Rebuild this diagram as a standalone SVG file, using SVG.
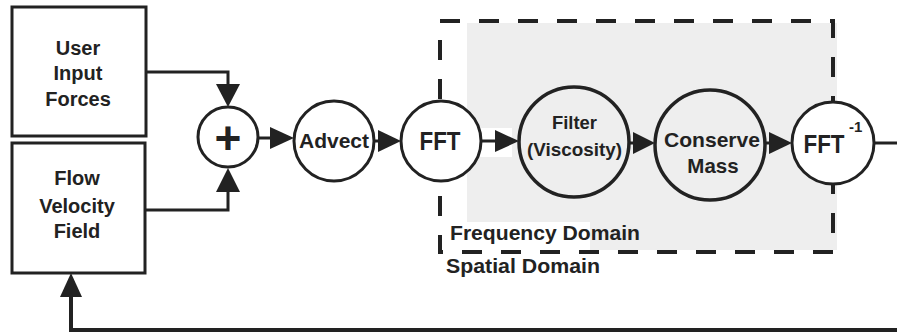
<svg xmlns="http://www.w3.org/2000/svg" width="897" height="332" viewBox="0 0 897 332">
<style>
.box{fill:#fff;stroke:#222;stroke-width:3}
.node{fill:#fff;stroke:#222;stroke-width:3}
.nodeg{fill:none;stroke:#222;stroke-width:3.5}
.ln{fill:none;stroke:#222;stroke-width:3}
.ah{fill:#222;stroke:none}
.dash{fill:none;stroke:#222;stroke-width:4;stroke-dasharray:20 19}
text{font-family:"Liberation Sans",Arial,sans-serif;font-weight:bold;fill:#222;text-anchor:middle}
.t20{font-size:20px}
.lbl{font-size:20px;text-anchor:start}
</style>
<rect width="897" height="332" fill="#fff"/>
<g id="domain-bg">
<path d="M467,23 H837 V250 H590 V222 H467 Z" fill="#eeeeee"/>
<rect x="467" y="128" width="45" height="29" fill="#fff"/>
</g>
<g id="frequency-domain">
<path class="dash" d="M440,21 H833 V252 H440 Z"/>
</g>
<g id="connectors">
<path class="ln" d="M146,72 H228 V86"/>
<polygon class="ah" points="216,84 240,84 228,107"/>
<path class="ln" d="M145,210 H228 V190"/>
<polygon class="ah" points="216,192 240,192 228,168"/>
<path class="ln" d="M259,138 H272"/>
<polygon class="ah" points="270,127 270,149 294,138"/>
<path class="ln" d="M373,141 H380"/>
<polygon class="ah" points="378,130 378,152 401,141"/>
<path class="ln" d="M481,141 H497"/>
<polygon class="ah" points="495,130 495,152 519,141"/>
<path class="ln" d="M629,143 H635"/>
<polygon class="ah" points="633,132 633,154 655,143"/>
<path class="ln" d="M765,143 H771"/>
<polygon class="ah" points="769,132 769,154 792,143"/>
<path class="ln" d="M874,143 H897"/>
<path d="M897,330 H71 V294" fill="none" stroke="#222" stroke-width="4"/>
<polygon class="ah" points="60,297 82,297 71,273"/>
</g>
<g id="user-input-forces">
<rect class="box" x="12" y="7" width="134" height="129"/>
<text class="t20" x="78" y="55">User</text>
<text class="t20" x="78" y="80">Input</text>
<text class="t20" x="78" y="106">Forces</text>
</g>
<g id="flow-velocity-field">
<rect class="box" x="12" y="143" width="133" height="130"/>
<text class="t20" x="77" y="185">Flow</text>
<text class="t20" x="77" y="213">Velocity</text>
<text class="t20" x="77" y="238">Field</text>
</g>
<g id="sum">
<circle class="node" cx="228" cy="137" r="30"/>
<text x="228" y="154" style="font-size:46px">+</text>
</g>
<g id="advect">
<circle class="node" cx="334" cy="141" r="40"/>
<text x="334" y="148" style="font-size:20px" textLength="70" lengthAdjust="spacingAndGlyphs">Advect</text>
</g>
<g id="fft">
<circle class="node" cx="441" cy="141" r="40"/>
<text x="440" y="150" style="font-size:26px" textLength="41" lengthAdjust="spacingAndGlyphs">FFT</text>
</g>
<g id="filter">
<circle class="nodeg" cx="574" cy="142" r="55"/>
<text x="574.5" y="129" style="font-size:19px" textLength="45" lengthAdjust="spacingAndGlyphs">Filter</text>
<text x="574.5" y="156" style="font-size:19px" textLength="95" lengthAdjust="spacingAndGlyphs">(Viscosity)</text>
</g>
<g id="conserve-mass">
<circle class="nodeg" cx="710" cy="145" r="55"/>
<text x="712" y="147" style="font-size:20.5px" textLength="96" lengthAdjust="spacingAndGlyphs">Conserve</text>
<text x="713" y="173" style="font-size:20.5px">Mass</text>
</g>
<g id="inverse-fft">
<circle class="node" cx="833" cy="143" r="41"/>
<text x="824" y="153" style="font-size:25px" textLength="41" lengthAdjust="spacingAndGlyphs">FFT</text>
<text x="849" y="132" style="font-size:15px;text-anchor:start">-1</text>
</g>
<g id="labels">
<text class="lbl" x="450" y="240" textLength="190" lengthAdjust="spacingAndGlyphs">Frequency Domain</text>
<text class="lbl" x="446" y="273" textLength="154" lengthAdjust="spacingAndGlyphs">Spatial Domain</text>
</g>
</svg>
